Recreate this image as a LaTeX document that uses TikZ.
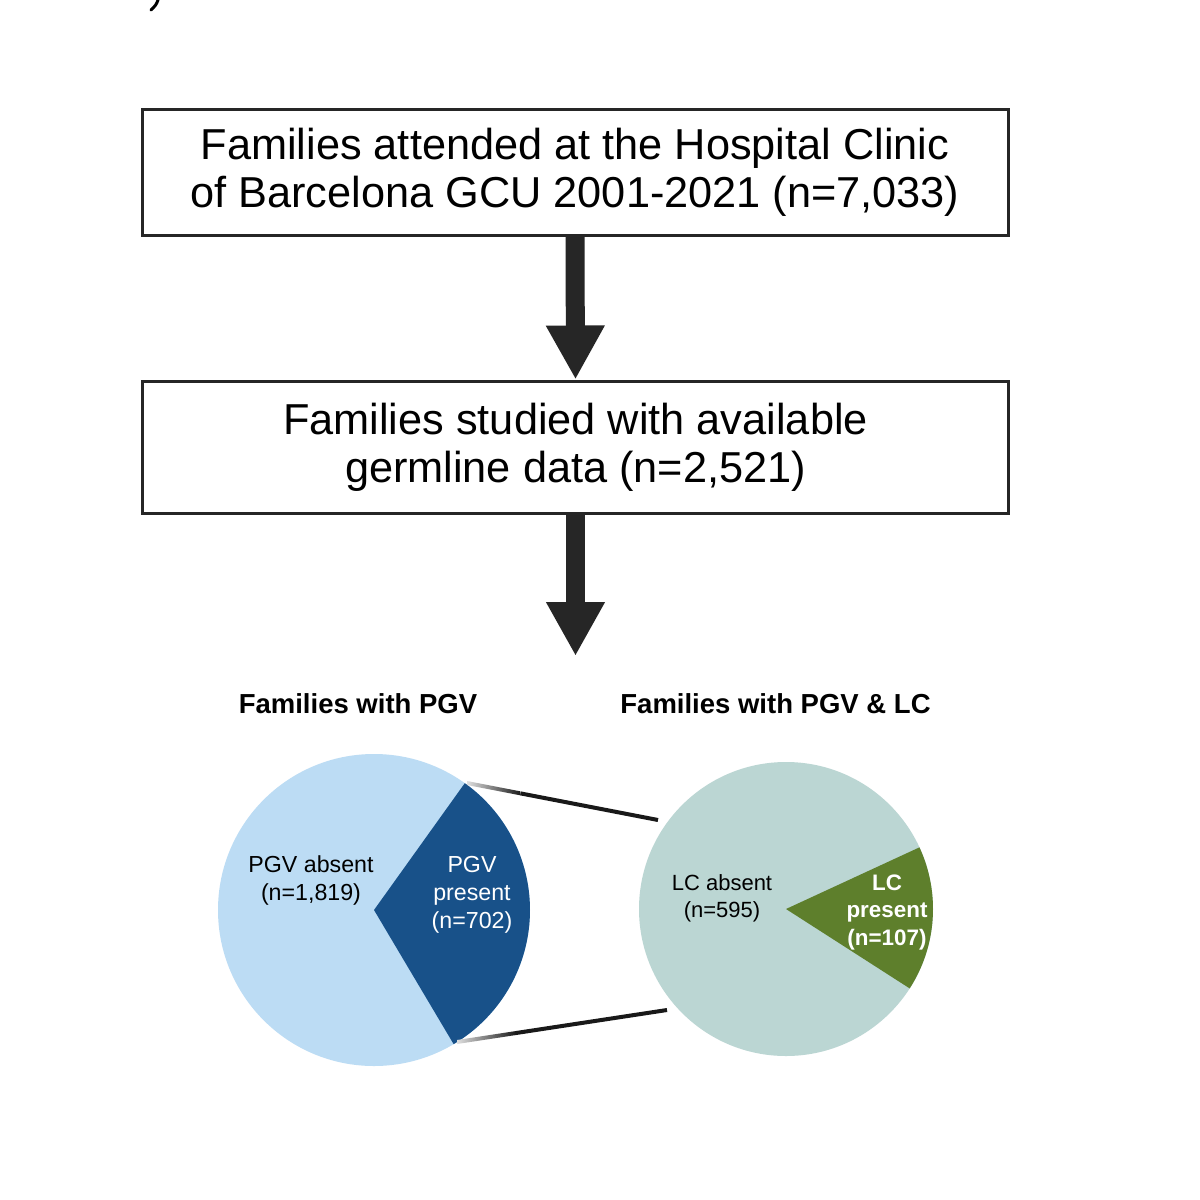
\documentclass[tikz,border=0pt]{standalone}
\usepackage{fontspec}
\setmainfont{Liberation Sans}
\usetikzlibrary{arrows.meta,calc}
\definecolor{pgvlight}{RGB}{188,220,244}
\definecolor{pgvdark}{RGB}{24,81,137}
\definecolor{lclight}{RGB}{187,214,211}
\definecolor{lcgreen}{RGB}{94,127,44}
\definecolor{arrowdark}{RGB}{38,38,38}
\tikzset{
  flowbox/.style={draw=arrowdark, line width=1.5pt, inner sep=0pt, align=center,
    minimum width=433pt, font=\fontsize{21.65}{24}\selectfont},
  bigarrow/.style={draw=arrowdark, line width=9.5pt,
    -{Triangle[width=27.5pt,length=27pt]}},
  head/.style={font=\fontsize{13.75}{16}\selectfont\bfseries, anchor=base, inner sep=0pt},
  lab/.style={font=\fontsize{11.6}{14}\selectfont, align=center, anchor=base, inner sep=0pt},
  blab/.style={font=\fontsize{11.2}{13.75}\selectfont\bfseries, align=center, anchor=base, inner sep=0pt, text=white},
  zoomline/.style={line width=2pt, draw=black!90},
}
\begin{document}
\begin{tikzpicture}[x=0.5pt,y=-0.5pt]
\useasboundingbox[fill=white] (0,0) rectangle (1200,1200);
% partial glyph at top
\draw[line width=1.5pt, line cap=round] (158,0) .. controls (156,5) .. (151,10);
% boxes
\node[flowbox, minimum height=63pt] (b1) at (575,172)
  {Families attended at the Hospital Clinic\\of Barcelona GCU 2001-2021 (n=7,033)};
\node[flowbox, minimum height=66pt] (b2) at (575.5,447)
  {Families studied with available\\germline data (n=2,521)};
\coordinate (a2) at (575.5,656);
\draw[bigarrow] (b1.south) -- (b2.north);
\draw[bigarrow] (b2.south) -- (a2);
% headings
\node[head] (h1) at (358,713) {Families with PGV};
\node[head] (h2) at (775.5,713) {Families with PGV \& LC};
% left pie
\coordinate (c1) at (374,910);
\fill[pgvlight] (c1) circle[radius=156];
\fill[pgvdark] (c1) -- ++(-54.4:156) arc[start angle=-54.4, end angle=59.3, radius=156] -- cycle;
% right pie
\coordinate (c2) at (786,909);
\fill[lclight] (c2) circle[radius=147];
\fill[lcgreen] (c2) -- ++(-24.8:147) arc[start angle=-24.8, end angle=32.7, radius=147] -- cycle;
% zoom lines
\coordinate (p1) at (467,783); \coordinate (q1) at (658,820);
\coordinate (p2) at (457,1042); \coordinate (q2) at (667,1010);
\coordinate (m1) at ($(p1)!0.28!(q1)$);
\coordinate (m2) at ($(p2)!0.28!(q2)$);
\shade[left color=gray!25, right color=black!90]
  ($(p1)+(0,-2)$) -- ($(m1)+(0,-2)$) -- ($(m1)+(0,2)$) -- ($(p1)+(0,2)$) -- cycle;
\shade[left color=gray!25, right color=black!90]
  ($(p2)+(0,-2)$) -- ($(m2)+(0,-2)$) -- ($(m2)+(0,2)$) -- ($(p2)+(0,2)$) -- cycle;
\draw[zoomline] (m1) -- (q1);
\draw[zoomline] (m2) -- (q2);
% labels (anchor = baseline of last line)
\node[lab] (l1) at (311,900) {PGV absent\\(n=1,819)};
\node[lab, text=white] (l2) at (472,928) {PGV\\present\\(n=702)};
\node[lab, font=\fontsize{11}{13.5}\selectfont] (l3) at (722,917) {LC absent\\(n=595)};
\node[blab] (l4) at (887,945) {LC\\present\\(n=107)};
\end{tikzpicture}
\end{document}
